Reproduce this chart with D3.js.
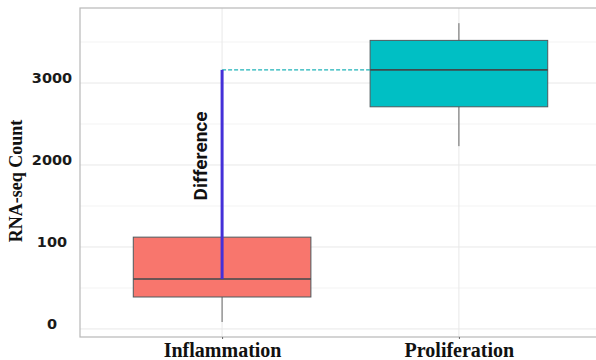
<!DOCTYPE html>
<html>
<head>
<meta charset="utf-8">
<title>RNA-seq boxplot</title>
<script src="https://d3js.org/d3.v7.min.js"></script>
<style>
body { margin: 0; padding: 0; background: #fff; }
svg { display: block; }
</style>
</head>
<body>
<div id="chart"></div>
<script>
// data (y in "axis units", labels are as printed)
var categories = ["Inflammation", "Proliferation"];
var lowerWhisker = [85, 2230];
var q1 = [390, 2710];
var median = [610, 3160];
var q3 = [1120, 3520];
var upperWhisker = [1120, 3730];
var boxColors = ["#F8766D", "#00BFC4"];
var tickValues = [0, 1000, 2000, 3000];
var tickLabels = ["0", "100", "2000", "3000"];
var minorTicks = [500, 1500, 2500, 3500];

var width = 596, height = 360;
var margin = {top: 8, right: -5, bottom: 23, left: 80};
var w = width - margin.left - margin.right,
    h = height - margin.top - margin.bottom;

var svg = d3.select('#chart').append('svg')
    .attr('width', width)
    .attr('height', height);

var g = svg.append('g')
    .attr('transform', 'translate(' + margin.left + ',' + margin.top + ')');

var x = d3.scalePoint()
    .domain(categories)
    .range([0, w])
    .padding(0.6);
var boxW = x.step() * 0.75;

var y = d3.scaleLinear()
    .domain([-98, 3915])
    .range([h, 0]);

// grid
g.selectAll('.minor').data(minorTicks).enter().append('line')
    .attr('x1', 0).attr('x2', w)
    .attr('y1', function(d){ return y(d); }).attr('y2', function(d){ return y(d); })
    .attr('stroke', '#f3f3f3').attr('stroke-width', 1);
g.selectAll('.major').data(tickValues).enter().append('line')
    .attr('x1', 0).attr('x2', w)
    .attr('y1', function(d){ return y(d); }).attr('y2', function(d){ return y(d); })
    .attr('stroke', '#e8e8e8').attr('stroke-width', 1);
g.selectAll('.vgrid').data(categories).enter().append('line')
    .attr('x1', function(d){ return x(d); }).attr('x2', function(d){ return x(d); })
    .attr('y1', 0).attr('y2', h)
    .attr('stroke', '#e8e8e8').attr('stroke-width', 1);

// panel border
g.append('rect')
    .attr('x', 0).attr('y', 0).attr('width', w).attr('height', h)
    .attr('fill', 'none').attr('stroke', '#b8b8b8').attr('stroke-width', 1.2);

// boxes
var idx = d3.range(categories.length);
var boxes = g.selectAll('.box').data(idx).enter().append('g').attr('class', 'box');

boxes.append('line')
    .attr('x1', function(i){ return x(categories[i]); })
    .attr('x2', function(i){ return x(categories[i]); })
    .attr('y1', function(i){ return y(lowerWhisker[i]); })
    .attr('y2', function(i){ return y(q1[i]); })
    .attr('stroke', '#666').attr('stroke-width', 1);
boxes.append('line')
    .attr('x1', function(i){ return x(categories[i]); })
    .attr('x2', function(i){ return x(categories[i]); })
    .attr('y1', function(i){ return y(q3[i]); })
    .attr('y2', function(i){ return y(upperWhisker[i]); })
    .attr('stroke', '#666').attr('stroke-width', 1);
boxes.append('rect')
    .attr('x', function(i){ return x(categories[i]) - boxW / 2; })
    .attr('y', function(i){ return y(q3[i]); })
    .attr('width', boxW)
    .attr('height', function(i){ return y(q1[i]) - y(q3[i]); })
    .attr('fill', function(i){ return boxColors[i]; })
    .attr('stroke', '#4d5a5e').attr('stroke-width', 1);
boxes.append('line')
    .attr('x1', function(i){ return x(categories[i]) - boxW / 2; })
    .attr('x2', function(i){ return x(categories[i]) + boxW / 2; })
    .attr('y1', function(i){ return y(median[i]); })
    .attr('y2', function(i){ return y(median[i]); })
    .attr('stroke', '#3f4a4d').attr('stroke-width', 1.6);

// difference annotation
g.append('line')
    .attr('x1', x(categories[0])).attr('x2', x(categories[1]) - boxW / 2)
    .attr('y1', y(median[1])).attr('y2', y(median[1]))
    .attr('stroke', '#1fb3b8').attr('stroke-width', 1.2)
    .attr('stroke-dasharray', '4,2');
g.append('line')
    .attr('x1', x(categories[0])).attr('x2', x(categories[0]))
    .attr('y1', y(median[0])).attr('y2', y(median[1]))
    .attr('stroke', '#4430d8').attr('stroke-width', 3);
g.append('text')
    .attr('transform', 'translate(' + (x(categories[0]) - 15) + ',' + y(2110) + ') rotate(-90)')
    .attr('text-anchor', 'middle')
    .attr('font-family', '"Liberation Sans Narrow", "Roboto", sans-serif')
    .attr('font-weight', 700)
    .attr('font-size', 19)
    .attr('fill', '#111')
    .text('Difference');

// axes
var xAxis = g.append('g')
    .attr('transform', 'translate(0,' + h + ')')
    .call(d3.axisBottom(x).tickSize(2).tickPadding(4));
xAxis.select('.domain').remove();
xAxis.selectAll('line').attr('stroke', '#666');
xAxis.selectAll('text')
    .attr('font-family', '"Liberation Serif", "Times New Roman", serif')
    .attr('font-weight', 700)
    .attr('font-size', 20)
    .attr('dy', '0.68em')
    .attr('fill', '#111');

var yAxis = g.append('g')
    .call(d3.axisLeft(y).tickValues(tickValues).tickSize(0).tickPadding(0)
        .tickFormat(function(d, i){ return tickLabels[i]; }));
yAxis.select('.domain').remove();
yAxis.selectAll('text')
    .attr('x', -28)
    .attr('dy', '-0.05em')
    .attr('text-anchor', 'middle')
    .attr('font-family', '"DejaVu Sans", sans-serif')
    .attr('font-weight', 700)
    .attr('font-size', 14.5)
    .attr('fill', '#1a1a1a');

svg.append('text')
    .attr('transform', 'translate(22,181) rotate(-90)')
    .attr('text-anchor', 'middle')
    .attr('font-family', '"Liberation Serif", "Times New Roman", serif')
    .attr('font-weight', 700)
    .attr('font-size', 18)
    .attr('fill', '#111')
    .text('RNA-seq Count');
</script>
</body>
</html>
